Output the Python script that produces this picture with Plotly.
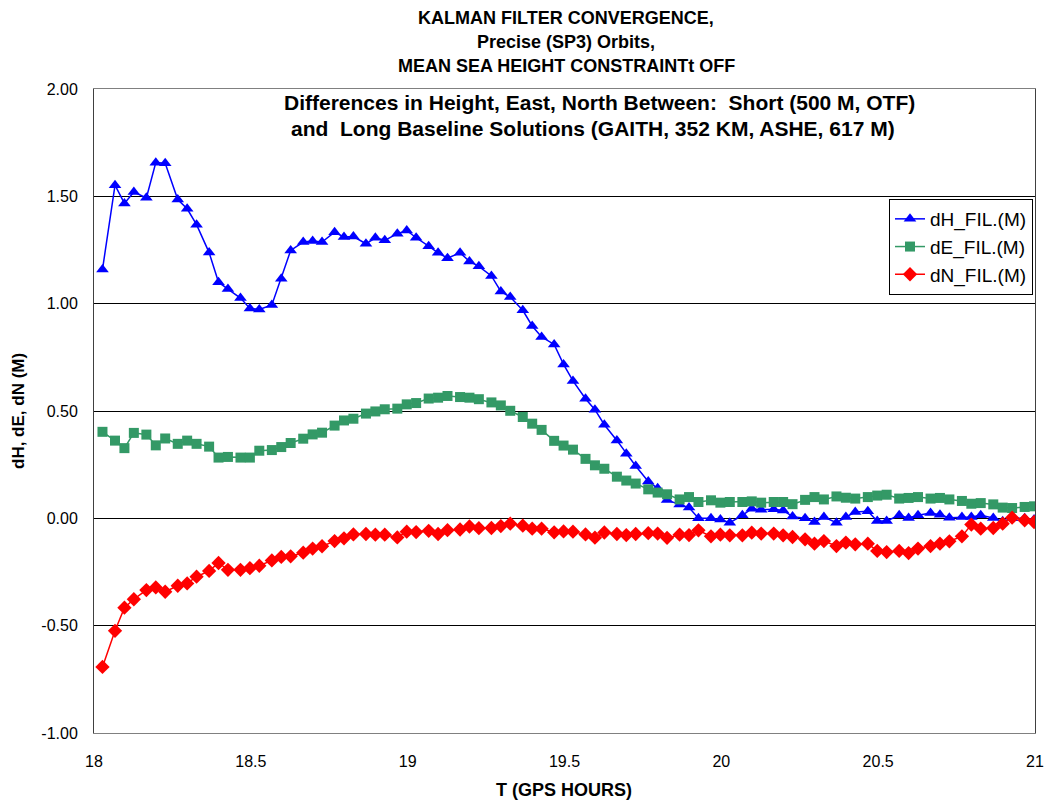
import plotly.graph_objects as go

# GPS epochs (hours)
T = [18.027, 18.067, 18.097, 18.127, 18.167, 18.197, 18.227, 18.267, 18.297, 18.327,
     18.367, 18.397, 18.427, 18.467, 18.497, 18.527, 18.567, 18.597, 18.627, 18.667,
     18.697, 18.727, 18.767, 18.797, 18.827, 18.867, 18.897, 18.927, 18.967, 18.997,
     19.027, 19.067, 19.097, 19.127, 19.167, 19.197, 19.227, 19.267, 19.297, 19.327,
     19.367, 19.397, 19.427, 19.467, 19.497, 19.527, 19.567, 19.597, 19.627, 19.667,
     19.697, 19.727, 19.767, 19.797, 19.827, 19.867, 19.897, 19.927, 19.967, 19.997,
     20.027, 20.067, 20.097, 20.127, 20.167, 20.197, 20.227, 20.267, 20.297, 20.327,
     20.367, 20.397, 20.427, 20.467, 20.497, 20.527, 20.567, 20.597, 20.627, 20.667,
     20.697, 20.727, 20.767, 20.797, 20.827, 20.867, 20.897, 20.927, 20.967, 20.997]

dH = [1.159, 1.552, 1.467, 1.520, 1.493, 1.657, 1.654, 1.485, 1.442, 1.368,
      1.238, 1.100, 1.068, 1.026, 0.978, 0.973, 0.994, 1.116, 1.248, 1.287,
      1.292, 1.287, 1.333, 1.310, 1.313, 1.279, 1.307, 1.295, 1.326, 1.341,
      1.307, 1.268, 1.237, 1.212, 1.237, 1.197, 1.174, 1.129, 1.057, 1.031,
      0.969, 0.896, 0.845, 0.810, 0.717, 0.640, 0.557, 0.506, 0.436, 0.363,
      0.301, 0.244, 0.172, 0.140, 0.085, 0.065, 0.050, 0.000, 0.000, -0.005,
      -0.020, 0.014, 0.045, 0.040, 0.042, 0.037, 0.008, 0.000, -0.017, 0.006,
      -0.020, 0.006, 0.029, 0.033, -0.012, -0.012, 0.014, 0.002, 0.014, 0.025,
      0.017, 0.003, 0.006, 0.006, 0.014, 0.002, -0.014, 0.000, 0.000, -0.005]

dE = [0.403, 0.362, 0.327, 0.398, 0.390, 0.340, 0.372, 0.347, 0.362, 0.347,
      0.334, 0.283, 0.286, 0.283, 0.283, 0.315, 0.318, 0.332, 0.351, 0.371,
      0.391, 0.399, 0.432, 0.456, 0.464, 0.488, 0.498, 0.508, 0.511, 0.531,
      0.537, 0.558, 0.562, 0.570, 0.565, 0.562, 0.555, 0.540, 0.526, 0.501,
      0.472, 0.441, 0.412, 0.361, 0.339, 0.320, 0.277, 0.247, 0.231, 0.194,
      0.176, 0.162, 0.135, 0.120, 0.112, 0.088, 0.099, 0.076, 0.084, 0.073,
      0.076, 0.076, 0.079, 0.073, 0.076, 0.076, 0.066, 0.086, 0.099, 0.088,
      0.102, 0.096, 0.092, 0.099, 0.106, 0.110, 0.092, 0.095, 0.099, 0.092,
      0.095, 0.088, 0.081, 0.068, 0.071, 0.065, 0.050, 0.048, 0.053, 0.056]

dN = [-0.692, -0.524, -0.416, -0.377, -0.334, -0.322, -0.342, -0.314, -0.303, -0.272,
      -0.245, -0.208, -0.240, -0.240, -0.232, -0.221, -0.196, -0.180, -0.177, -0.160,
      -0.141, -0.130, -0.106, -0.093, -0.075, -0.073, -0.076, -0.076, -0.089, -0.062,
      -0.064, -0.058, -0.073, -0.055, -0.052, -0.038, -0.046, -0.045, -0.036, -0.025,
      -0.034, -0.048, -0.048, -0.065, -0.061, -0.062, -0.075, -0.090, -0.066, -0.073,
      -0.078, -0.073, -0.069, -0.071, -0.091, -0.076, -0.078, -0.056, -0.084, -0.076,
      -0.079, -0.079, -0.067, -0.071, -0.071, -0.079, -0.087, -0.098, -0.118, -0.106,
      -0.129, -0.113, -0.121, -0.118, -0.152, -0.157, -0.152, -0.162, -0.141, -0.129,
      -0.118, -0.107, -0.084, -0.029, -0.048, -0.045, -0.025, 0.003, -0.009, -0.017]

series_names = ["dH_FIL.(M)", "dE_FIL.(M)", "dN_FIL.(M)"]
title_lines = ["KALMAN FILTER CONVERGENCE,", "Precise (SP3) Orbits,",
               "MEAN SEA HEIGHT CONSTRAINTt OFF"]
sub_lines = ["Differences in Height, East, North Between:  Short (500 M, OTF)",
             "and  Long Baseline Solutions (GAITH, 352 KM, ASHE, 617 M)"]
x_ticks = [18, 18.5, 19, 19.5, 20, 20.5, 21]
x_tick_text = ["18", "18.5", "19", "19.5", "20", "20.5", "21"]
y_ticks = [-1.0, -0.5, 0.0, 0.5, 1.0, 1.5, 2.0]
y_tick_text = ["-1.00", "-0.50", "0.00", "0.50", "1.00", "1.50", "2.00"]

FONT = "Liberation Sans, Arial, sans-serif"

# plot area in pixels (for placing paper-referenced texts)
PL, PR, PT, PB = 94, 1035, 89, 733
W, H = 1045, 804


def px(xp):
    return (xp - PL) / (PR - PL)


def py(yp):
    return (PB - yp) / (PB - PT)


fig = go.Figure()
styles = [("#0000FF", "triangle-up", 11), ("#339966", "square", 10), ("#FF0000", "diamond", 11)]
for name, ys, (col, sym, sz) in zip(series_names, [dH, dE, dN], styles):
    fig.add_trace(go.Scatter(
        x=T, y=ys, name=name, mode="lines+markers",
        line=dict(color=col, width=1.5),
        marker=dict(color=col, symbol=sym, size=sz, line=dict(width=0)),
    ))

annotations = []
for line, ypx in zip(title_lines, [18, 42, 66]):
    annotations.append(dict(text="<b>%s</b>" % line, x=px(566), y=py(ypx),
                            xref="paper", yref="paper", xanchor="center",
                            yanchor="middle", showarrow=False,
                            font=dict(size=18, color="black", family=FONT)))
for line, ypx, xc in zip(sub_lines, [103, 128], [599, 593]):
    annotations.append(dict(text="<b>%s</b>" % line.replace("  ", "&nbsp; "),
                            x=px(xc), y=py(ypx), xref="paper", yref="paper",
                            xanchor="center", yanchor="middle", showarrow=False,
                            font=dict(size=21, color="black", family=FONT)))
annotations.append(dict(text="<b>T (GPS HOURS)</b>", x=px(564), y=py(790),
                        xref="paper", yref="paper", xanchor="center",
                        yanchor="middle", showarrow=False,
                        font=dict(size=18, color="black", family=FONT)))
annotations.append(dict(text="<b>dH, dE, dN (M)</b>", x=px(18), y=py(411),
                        xref="paper", yref="paper", xanchor="center",
                        yanchor="middle", showarrow=False, textangle=-90,
                        font=dict(size=17, color="black", family=FONT)))

fig.update_layout(
    width=W, height=H,
    margin=dict(l=PL, r=W - PR, t=PT, b=H - PB, autoexpand=False),
    paper_bgcolor="white", plot_bgcolor="white",
    font=dict(family=FONT, size=16, color="black"),
    showlegend=True,
    legend=dict(x=px(1033), y=py(199), xanchor="right", yanchor="top",
                bgcolor="white", bordercolor="black", borderwidth=1,
                font=dict(size=19, family=FONT), tracegroupgap=0,
                itemwidth=30),
    annotations=annotations,
    xaxis=dict(range=[18, 21], tickvals=x_ticks, ticktext=x_tick_text,
               showgrid=False, zeroline=False, showline=True, linecolor="#808080",
               linewidth=1, mirror=True, ticks="", ticklabelstandoff=14,
               automargin=False, tickfont=dict(size=16, family=FONT)),
    yaxis=dict(range=[-1, 2], tickvals=y_ticks, ticktext=y_tick_text,
               showgrid=True, gridcolor="black", gridwidth=1, zeroline=False,
               showline=True, linecolor="#404040", linewidth=1, mirror=True,
               ticks="", ticklabelstandoff=12, automargin=False,
               tickfont=dict(size=16, family=FONT)),
)

fig.write_html("out.html", config={"displayModeBar": False},
               post_script="document.body.style.margin='0';document.body.style.padding='0';")
